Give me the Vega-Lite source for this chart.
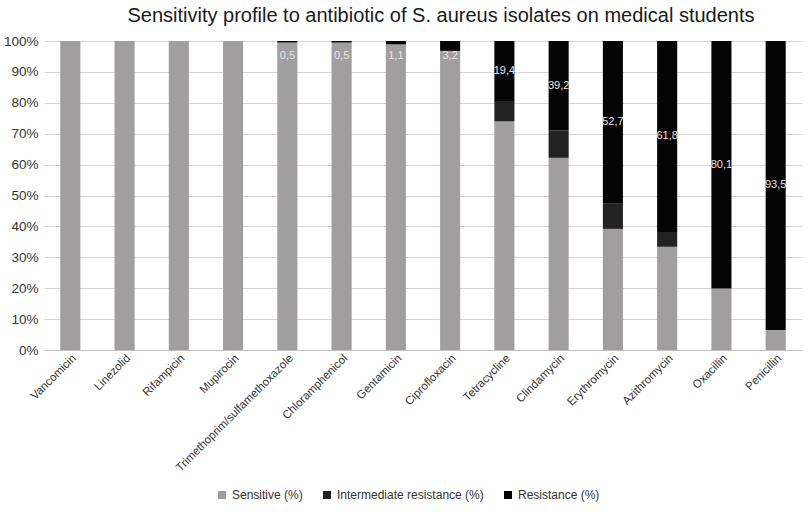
{
  "$schema": "https://vega.github.io/schema/vega-lite/v6.json",
  "width": 810,
  "height": 514,
  "autosize": {"type": "fit", "contains": "padding"},
  "padding": {"left": 3, "right": 8, "top": 6, "bottom": 40},
  "background": "white",
  "config": {"font": "Liberation Sans", "view": {"stroke": null}},
  "title": {"text": "Sensitivity profile to  antibiotic of S. aureus isolates on medical students", "fontSize": 20, "fontWeight": "normal", "color": "#1a1a1a", "offset": 8, "anchor": "middle", "dx": 18},
  "data": {"values": [
    {"drug": "Vancomicin", "category": "Sensitive (%)", "value": 100},
    {"drug": "Linezolid", "category": "Sensitive (%)", "value": 100},
    {"drug": "Rifampicin", "category": "Sensitive (%)", "value": 100},
    {"drug": "Mupirocin", "category": "Sensitive (%)", "value": 100},
    {"drug": "Trimethoprim/sulfamethoxazole", "category": "Sensitive (%)", "value": 99.5},
    {"drug": "Trimethoprim/sulfamethoxazole", "category": "Resistance (%)", "value": 0.5, "label": "0,5"},
    {"drug": "Chloramphenicol", "category": "Sensitive (%)", "value": 99.5},
    {"drug": "Chloramphenicol", "category": "Resistance (%)", "value": 0.5, "label": "0,5"},
    {"drug": "Gentamicin", "category": "Sensitive (%)", "value": 98.9},
    {"drug": "Gentamicin", "category": "Resistance (%)", "value": 1.1, "label": "1,1"},
    {"drug": "Ciprofloxacin", "category": "Sensitive (%)", "value": 96.8},
    {"drug": "Ciprofloxacin", "category": "Resistance (%)", "value": 3.2, "label": "3,2"},
    {"drug": "Tetracycline", "category": "Sensitive (%)", "value": 74.0},
    {"drug": "Tetracycline", "category": "Intermediate resistance (%)", "value": 6.6},
    {"drug": "Tetracycline", "category": "Resistance (%)", "value": 19.4, "label": "19,4"},
    {"drug": "Clindamycin", "category": "Sensitive (%)", "value": 62.2},
    {"drug": "Clindamycin", "category": "Intermediate resistance (%)", "value": 8.9},
    {"drug": "Clindamycin", "category": "Resistance (%)", "value": 28.9, "label": "39,2"},
    {"drug": "Erythromycin", "category": "Sensitive (%)", "value": 39.2},
    {"drug": "Erythromycin", "category": "Intermediate resistance (%)", "value": 8.1},
    {"drug": "Erythromycin", "category": "Resistance (%)", "value": 52.7, "label": "52,7"},
    {"drug": "Azithromycin", "category": "Sensitive (%)", "value": 33.4},
    {"drug": "Azithromycin", "category": "Intermediate resistance (%)", "value": 4.8},
    {"drug": "Azithromycin", "category": "Resistance (%)", "value": 61.8, "label": "61,8"},
    {"drug": "Oxacillin", "category": "Sensitive (%)", "value": 19.9},
    {"drug": "Oxacillin", "category": "Resistance (%)", "value": 80.1, "label": "80,1"},
    {"drug": "Penicillin", "category": "Sensitive (%)", "value": 6.5},
    {"drug": "Penicillin", "category": "Resistance (%)", "value": 93.5, "label": "93,5"}
  ]},
  "transform": [
    {"calculate": "indexof(['Sensitive (%)', 'Intermediate resistance (%)', 'Resistance (%)'], datum.category)", "as": "stackOrder"}
  ],
  "encoding": {
    "x": {
      "field": "drug", "type": "nominal", "sort": null,
      "scale": {"paddingInner": 0.63, "paddingOuter": 0.3},
      "axis": {"title": null, "labelAngle": -45, "labelFontSize": 11.5, "labelColor": "#333333", "ticks": false, "domainColor": "#bfbfbf", "labelPadding": 2, "labelLimit": 300}
    }
  },
  "layer": [
    {
      "mark": {"type": "bar"},
      "encoding": {
        "y": {"field": "value", "type": "quantitative", "stack": "zero",
          "scale": {"domain": [0, 100]},
          "axis": {"title": null, "values": [0,10,20,30,40,50,60,70,80,90,100], "labelExpr": "datum.value + '%'", "labelFontSize": 13.5, "labelColor": "#333333", "ticks": false, "domain": false, "gridColor": "#d4d4d4", "labelPadding": 6}},
        "order": {"field": "stackOrder", "type": "quantitative", "sort": "ascending"},
        "color": {"field": "category", "type": "nominal",
          "scale": {"domain": ["Sensitive (%)", "Intermediate resistance (%)", "Resistance (%)"], "range": ["#a09e9f", "#222222", "#050505"]},
          "legend": {"title": null, "orient": "none", "legendX": 172, "legendY": 448, "direction": "horizontal", "symbolType": "square", "symbolSize": 64, "labelFontSize": 12, "labelColor": "#333333", "columnPadding": 18}}
      }
    },
    {
      "mark": {"type": "text", "fontSize": 11, "color": "#e6e6e6"},
      "encoding": {
        "y": {"field": "value", "type": "quantitative", "stack": "zero", "bandPosition": 0.5,
          "axis": {"title": null, "values": [0,10,20,30,40,50,60,70,80,90,100], "labelExpr": "datum.value + '%'", "labelFontSize": 13.5, "labelColor": "#333333", "ticks": false, "domain": false, "gridColor": "#d4d4d4", "labelPadding": 6}},
        "detail": {"field": "category"},
        "order": {"field": "stackOrder", "type": "quantitative", "sort": "ascending"},
        "text": {"field": "label"},
        "opacity": {"condition": {"test": "datum.category == 'Resistance (%)' && datum.value >= 5", "value": 1}, "value": 0}
      }
    },
    {
      "transform": [{"filter": "datum.category == 'Resistance (%)' && datum.value < 5"}],
      "mark": {"type": "text", "fontSize": 11, "color": "#e6e6e6", "dy": 15},
      "encoding": {
        "y": {"datum": 100, "type": "quantitative",
          "axis": {"title": null, "values": [0,10,20,30,40,50,60,70,80,90,100], "labelExpr": "datum.value + '%'", "labelFontSize": 13.5, "labelColor": "#333333", "ticks": false, "domain": false, "gridColor": "#d4d4d4", "labelPadding": 6}},
        "text": {"field": "label"}
      }
    }
  ]
}
